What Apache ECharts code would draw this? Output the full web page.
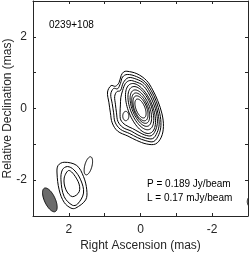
<!DOCTYPE html>
<html><head><meta charset="utf-8">
<script src="https://cdn.jsdelivr.net/npm/echarts@6/dist/echarts.min.js"></script>
<style>html,body{margin:0;padding:0;background:#fff}#c{width:249px;height:254px}</style>
</head><body><div id="c"></div><script>
// ---- tick labels (mas) ----
const labelledTicks = [2, 0, -2];
const tickLabels = ['2', '0', '-2'];

// ---- main component, outer contours (RA offset mas, Dec offset mas) ----
const main1 = [[0.38,1.04],[0.1,0.97],[-0.17,0.78],[-0.34,0.52],[-0.48,0.22],[-0.6,-0.15],[-0.64,-0.5],[-0.58,-0.8],[-0.42,-0.99],[-0.17,-0.99],[0.11,-0.89],[0.35,-0.77],[0.64,-0.63],[0.79,-0.4],[0.84,-0.12],[0.88,0.16],[0.92,0.46],[0.82,0.64],[0.7,0.62],[0.6,0.72],[0.54,0.92],[0.47,1.02]];
const main2 = [[0.37,0.95],[0.11,0.89],[-0.13,0.74],[-0.3,0.5],[-0.44,0.2],[-0.54,-0.15],[-0.57,-0.47],[-0.51,-0.73],[-0.37,-0.92],[-0.15,-0.9],[0.09,-0.81],[0.3,-0.7],[0.56,-0.58],[0.71,-0.38],[0.75,-0.12],[0.79,0.14],[0.83,0.4],[0.75,0.56],[0.64,0.55],[0.56,0.7],[0.5,0.88]];
const main3 = [[0.34,0.86],[0.12,0.82],[-0.1,0.7],[-0.26,0.47],[-0.4,0.18],[-0.49,-0.15],[-0.52,-0.45],[-0.46,-0.68],[-0.34,-0.84],[-0.13,-0.82],[0.07,-0.74],[0.26,-0.63],[0.49,-0.53],[0.63,-0.36],[0.67,-0.12],[0.7,0.12],[0.72,0.34],[0.66,0.47],[0.56,0.5],[0.48,0.72]];
const main4 = [[0.3,0.78],[0.12,0.74],[-0.06,0.65],[-0.22,0.44],[-0.36,0.15],[-0.45,-0.15],[-0.47,-0.42],[-0.41,-0.63],[-0.3,-0.76],[-0.12,-0.74],[0.04,-0.66],[0.22,-0.56],[0.42,-0.46],[0.55,-0.32],[0.57,-0.12],[0.56,0.1],[0.55,0.3],[0.5,0.5],[0.42,0.7]];
// ---- lower-left component contours ----
const south1 = [[2.13,-1.5],[1.78,-1.59],[1.59,-1.9],[1.5,-2.27],[1.53,-2.55],[1.81,-2.78],[1.94,-2.78],[2.13,-2.62],[2.27,-2.27],[2.33,-1.8],[2.3,-1.59]];
const south2 = [[2.04,-1.62],[1.86,-1.71],[1.67,-1.99],[1.59,-2.36],[1.76,-2.67],[1.9,-2.7],[2.13,-2.46],[2.22,-1.99],[2.18,-1.71]];
const south3 = [[1.99,-1.73],[1.74,-2.04],[1.71,-2.32],[1.9,-2.46],[2.08,-2.27],[2.13,-1.94]];

// ---- elliptical contours: [centre RA, centre Dec, semi-major, semi-minor, PA deg] ----
const innerEllipses = [
  [0.0, 0.0, 0.74, 0.34, 22],
  [-0.01, 0.01, 0.64, 0.29, 22],
  [-0.01, 0.01, 0.54, 0.24, 22],
  [-0.005, 0.01, 0.45, 0.2, 22],
  [0.0, 0.005, 0.37, 0.17, 22],
  [0.0, 0.0, 0.28, 0.125, 22]
];
const smallEllipses = [
  [0.41, -0.21, 0.13, 0.085, 0],
  [1.455, -1.6, 0.26, 0.1, -15],
  [-3.1, -2.6, 0.16, 0.12, 0]
];
const beam = [2.53, -2.55, 0.36, 0.15, 25];

const FONT = "'Liberation Sans', Arial, Helvetica, sans-serif";
const TXT = '#262626';

function ellipsePts(e) {
  const [cx, cy, a, b, pa] = e;
  const f = pa * Math.PI / 180, s = Math.sin(f), c = Math.cos(f);
  const pts = [];
  for (let i = 0; i < 72; i++) {
    const t = i / 72 * 2 * Math.PI;
    pts.push([cx + a * Math.cos(t) * s + b * Math.sin(t) * c,
              cy + a * Math.cos(t) * c - b * Math.sin(t) * s]);
  }
  return pts;
}

const shapes = [];
[main1, main2, main3, main4, south1, south2, south3].forEach(p => shapes.push({pts: p, smooth: 0.35}));
innerEllipses.concat(smallEllipses).forEach(e => shapes.push({pts: ellipsePts(e), smooth: 0}));
const beamPts = ellipsePts(beam);

function fmt(v) {
  const i = labelledTicks.indexOf(v);
  return i >= 0 ? tickLabels[i] : '';
}

const axisLine = {show: true, onZero: false, lineStyle: {color: TXT, width: 1}};
const axisTick = {show: true, inside: true, length: 3, lineStyle: {color: TXT, width: 1}};

const chart = echarts.init(document.getElementById('c'), null, {renderer: 'canvas'});
chart.setOption({
  animation: false,
  backgroundColor: '#fff',
  grid: {left: 33, top: 1, width: 215, height: 215, containLabel: false, outerBoundsMode: 'none'},
  xAxis: [
    {type: 'value', min: -3, max: 3, interval: 1, inverse: true, position: 'bottom',
     axisLine, axisTick, splitLine: {show: false},
     axisLabel: {margin: 8, fontSize: 12, color: TXT, fontFamily: FONT, formatter: fmt, showMinLabel: true, showMaxLabel: true},
     name: 'Right Ascension (mas)', nameLocation: 'middle', nameGap: 24, nameMoveOverlap: false,
     nameTextStyle: {fontSize: 12, color: TXT, fontFamily: FONT}},
    {type: 'value', min: -3, max: 3, interval: 1, inverse: true, position: 'top',
     axisLine, axisTick, splitLine: {show: false}, axisLabel: {show: false}}
  ],
  yAxis: [
    {type: 'value', min: -3, max: 3, interval: 1, position: 'left',
     axisLine, axisTick, splitLine: {show: false},
     axisLabel: {margin: 6, fontSize: 12, color: TXT, fontFamily: FONT, formatter: fmt},
     name: 'Relative Declination (mas)', nameLocation: 'middle', nameGap: 19, nameMoveOverlap: false,
     nameTextStyle: {fontSize: 12, color: TXT, fontFamily: FONT}},
    {type: 'value', min: -3, max: 3, interval: 1, position: 'right',
     axisLine, axisTick, splitLine: {show: false}, axisLabel: {show: false}}
  ],
  series: [
    {type: 'custom', xAxisIndex: 0, yAxisIndex: 0, clip: true,
     data: [beam.slice(0, 2)],
     renderItem: (params, api) => ({
       type: 'polygon',
       shape: {points: beamPts.map(p => api.coord(p))},
       style: {fill: '#6b6b6b', stroke: '#111', lineWidth: 1}
     })},
    {type: 'custom', xAxisIndex: 0, yAxisIndex: 0, clip: true,
     data: shapes.map(s => s.pts[0]),
     renderItem: (params, api) => {
       const s = shapes[params.dataIndex];
       return {
         type: 'polygon',
         shape: {points: s.pts.map(p => api.coord(p)), smooth: s.smooth},
         style: {fill: 'none', stroke: '#000', lineWidth: 1}
       };
     }}
  ],
  graphic: [
    {type: 'text', x: 49, y: 25, style: {text: '0239+108', font: '10px ' + FONT, fill: '#000', verticalAlign: 'middle'}},
    {type: 'text', x: 147, y: 184, style: {text: 'P = 0.189 Jy/beam', font: '10px ' + FONT, fill: '#000', verticalAlign: 'middle'}},
    {type: 'text', x: 147, y: 198, style: {text: 'L = 0.17 mJy/beam', font: '10px ' + FONT, fill: '#000', verticalAlign: 'middle'}}
  ]
});
</script></body></html>
